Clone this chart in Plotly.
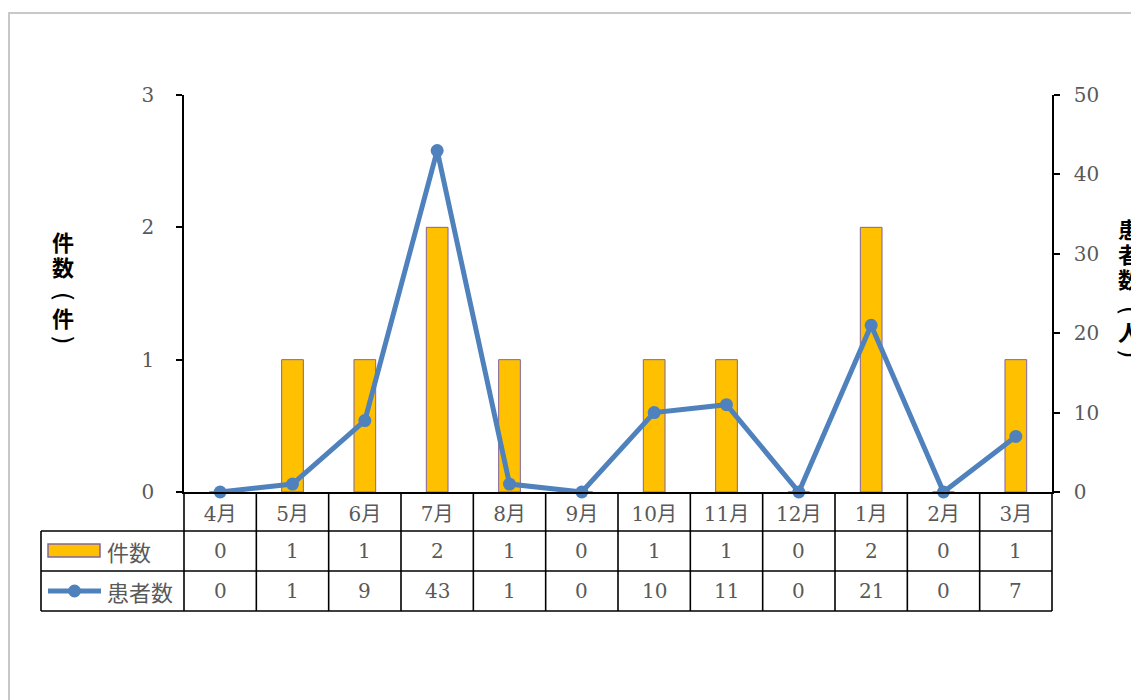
import plotly.graph_objects as go

months = ["4月", "5月", "6月", "7月", "8月", "9月", "10月", "11月", "12月", "1月", "2月", "3月"]
cases = [0, 1, 1, 2, 1, 0, 1, 1, 0, 2, 0, 1]
patients = [0, 1, 9, 43, 1, 0, 10, 11, 0, 21, 0, 7]
series_names = ["件数", "患者数"]
left_title = "件数（件）"
right_title = "患者数（人）"

W, H = 1139, 700
OFF = 8  # page body margin
L, R, T, B = 184, 1052, 95, 492  # plot area in screen pixels
SERIF = "DejaVu Serif, Noto Sans CJK JP"
GRAY = "#595959"
BAR_C = "#FFC000"
BAR_EDGE = "#8064A2"
LINE_C = "#4F81BD"

def px(x):
    return (x - L) / (R - L)

def py(y):
    return (B - y) / (B - T)

fig = go.Figure()
fig.add_trace(go.Bar(x=months, y=cases, name=series_names[0], width=0.3,
                     marker=dict(color=BAR_C, line=dict(color=BAR_EDGE, width=1)),
                     yaxis="y"))
fig.add_trace(go.Scatter(x=months, y=patients, name=series_names[1], mode="lines+markers",
                         line=dict(color=LINE_C, width=5),
                         marker=dict(color=LINE_C, size=13),
                         yaxis="y2", cliponaxis=False))

shapes = []
shapes.append(dict(type="rect", xref="paper", yref="paper", x0=px(9), x1=px(1160), y0=py(720), y1=py(13),
                   line=dict(color="#C8C8C8", width=2), fillcolor="rgba(0,0,0,0)", layer="below"))
tl = dict(color="black", width=1.6)
n = len(months)
cw = (R - L) / n
for yy in [531, 571, 611]:
    shapes.append(dict(type="line", xref="paper", yref="paper", x0=px(41), x1=px(R), y0=py(yy), y1=py(yy), line=tl))
shapes.append(dict(type="line", xref="paper", yref="paper", x0=px(41), x1=px(41), y0=py(531), y1=py(611), line=tl))
for k in range(n + 1):
    xx = L + k * cw
    shapes.append(dict(type="line", xref="paper", yref="paper", x0=px(xx), x1=px(xx), y0=py(B), y1=py(611), line=tl))
# legend keys
shapes.append(dict(type="rect", xref="paper", yref="paper", x0=px(48), x1=px(100), y0=py(557), y1=py(544),
                   fillcolor=BAR_C, line=dict(color=BAR_EDGE, width=1.5)))
shapes.append(dict(type="line", xref="paper", yref="paper", x0=px(48), x1=px(101), y0=py(591), y1=py(591),
                   line=dict(color=LINE_C, width=5)))
shapes.append(dict(type="circle", xref="paper", yref="paper", x0=px(68), x1=px(81), y0=py(597.5), y1=py(584.5),
                   fillcolor=LINE_C, line=dict(color=LINE_C, width=0)))

annotations = []
for i, m in enumerate(months):
    annotations.append(dict(x=m, xref="x", y=py(551), yref="paper", text=str(cases[i]), showarrow=False,
                            xanchor="center", yanchor="middle",
                            font=dict(family=SERIF, size=20, color=GRAY)))
    annotations.append(dict(x=m, xref="x", y=py(591), yref="paper", text=str(patients[i]), showarrow=False,
                            xanchor="center", yanchor="middle",
                            font=dict(family=SERIF, size=20, color=GRAY)))
annotations.append(dict(x=px(105), xref="paper", y=py(551), yref="paper", text=series_names[0], showarrow=False,
                        xanchor="left", yanchor="middle", font=dict(family="Noto Sans CJK JP", size=22, color=GRAY)))
annotations.append(dict(x=px(105), xref="paper", y=py(591), yref="paper", text=series_names[1], showarrow=False,
                        xanchor="left", yanchor="middle", font=dict(family="Noto Sans CJK JP", size=22, color=GRAY)))

title_font = dict(family="Noto Sans CJK JP", size=22, color="black", weight="bold")
paren_font = dict(family="DejaVu Sans", size=24, color="black")

def add_vertical(title, xc, ys):
    for ch, yy in zip(title, ys):
        if ch in "（）":
            annotations.append(dict(x=px(xc), xref="paper", y=py(yy), yref="paper",
                                    text="(" if ch == "（" else ")", textangle=90, showarrow=False,
                                    xanchor="center", yanchor="middle", font=paren_font))
        else:
            annotations.append(dict(x=px(xc), xref="paper", y=py(yy), yref="paper", text=ch, showarrow=False,
                                    xanchor="center", yanchor="middle", font=title_font))

add_vertical(left_title, 63, [241, 266, 296, 317, 339])
add_vertical(right_title, 1129, [228, 253, 278, 310, 331, 353])

fig.update_layout(
    width=W, height=H,
    margin=dict(l=L - OFF, r=W - (R - OFF), t=T - OFF, b=H - (B - OFF), pad=0),
    paper_bgcolor="white", plot_bgcolor="white",
    showlegend=False,
    xaxis=dict(type="category", showline=True, linecolor="black", linewidth=1.6, ticks="",
               showgrid=False, zeroline=False, tickfont=dict(family=SERIF, size=20, color=GRAY),
               ticklabelstandoff=3, range=[-0.5, n - 0.5], fixedrange=True),
    yaxis=dict(range=[0, 3], dtick=1, showline=True, linecolor="black", linewidth=1.6, ticks="outside",
               ticklen=6, tickwidth=1.6, tickcolor="black", showgrid=False, zeroline=False,
               tickfont=dict(family=SERIF, size=20, color=GRAY), ticklabelstandoff=18),
    yaxis2=dict(range=[0, 50], dtick=10, overlaying="y", side="right", showline=True, linecolor="black",
                linewidth=1.6, ticks="outside", ticklen=6, tickwidth=1.6, tickcolor="black", showgrid=False,
                zeroline=False, tickfont=dict(family=SERIF, size=20, color=GRAY), ticklabelstandoff=10),
    shapes=shapes, annotations=annotations,
)

fig.write_html("out.html")
